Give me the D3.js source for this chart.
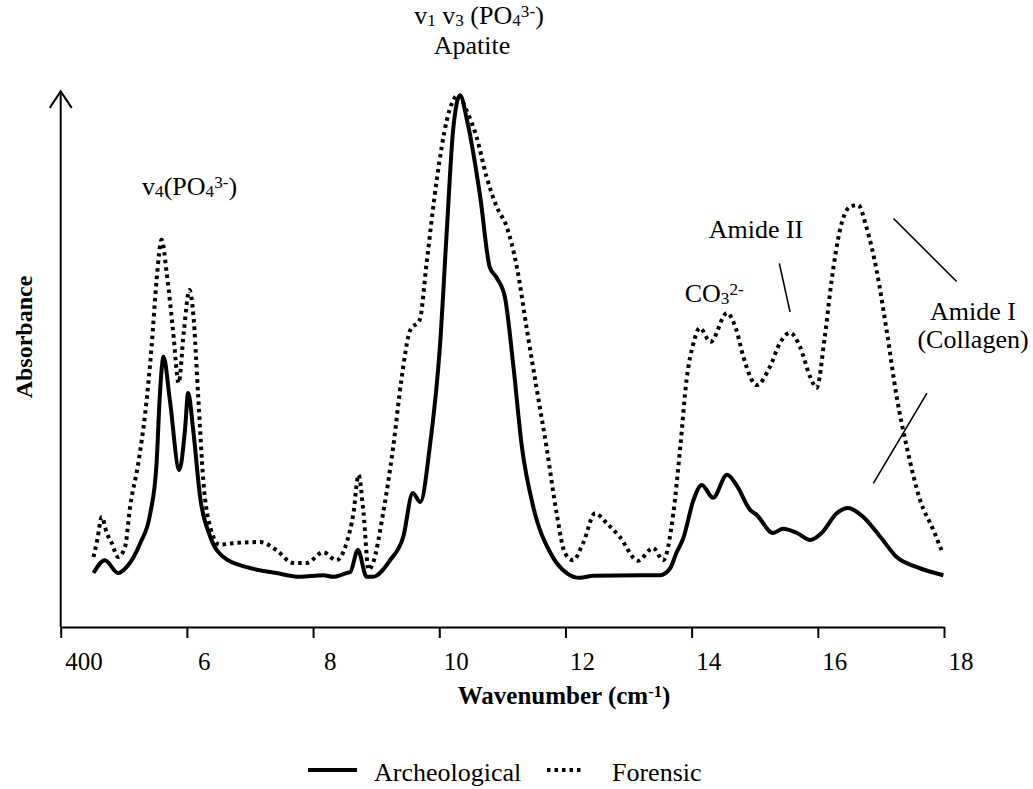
<!DOCTYPE html>
<html>
<head>
<meta charset="utf-8">
<script src="https://cdn.jsdelivr.net/npm/d3@7/dist/d3.min.js"></script>
<style>
body{margin:0;background:#fff;}
svg{display:block;background:#fff;font-family:"Liberation Serif","Times New Roman",serif;}
text{white-space:pre;fill:#000;}
</style>
</head>
<body>
<svg width="1033" height="789"></svg>
<script>
// wavenumber (cm-1) and absorbance (arbitrary units)
var archWn  = [452,470,491,505,526,542,552,557,563,573,588,597,602,610,621,637,658,695,742,779,816,832,853,859,871,885,895,922,943,958,970,985,1001,1012,1022,1033,1044,1065,1080,1091,1104,1117,1131,1149,1176,1202,1223,1244,1318,1350,1366,1376,1387,1403,1416,1434,1456,1471,1493,1503,1529,1545,1567,1588,1606,1630,1648,1672,1699,1725,1757,1799];
var archAbs = [0.101,0.125,0.101,0.113,0.157,0.213,0.307,0.431,0.506,0.425,0.294,0.369,0.438,0.369,0.243,0.169,0.131,0.112,0.101,0.094,0.097,0.094,0.101,0.103,0.144,0.094,0.094,0.125,0.169,0.251,0.234,0.337,0.524,0.743,0.931,0.996,0.949,0.805,0.674,0.654,0.618,0.494,0.337,0.225,0.139,0.101,0.092,0.096,0.097,0.097,0.110,0.139,0.167,0.238,0.266,0.242,0.285,0.266,0.219,0.210,0.176,0.184,0.176,0.163,0.176,0.213,0.223,0.206,0.169,0.131,0.112,0.097];

var forWn  = [452,458,465,473,481,491,502,510,523,534,544,552,560,568,578,587,595,604,610,618,626,637,652,673,716,742,768,790,816,837,853,864,872,880,888,895,911,927,940,954,969,980,996,1012,1030,1043,1059,1075,1091,1107,1123,1139,1154,1170,1186,1199,1212,1228,1247,1265,1286,1315,1339,1355,1371,1382,1392,1403,1413,1430,1456,1471,1482,1503,1524,1540,1556,1572,1588,1598,1611,1622,1635,1651,1664,1677,1693,1709,1725,1741,1762,1783,1796];
var forAbs = [0.131,0.163,0.206,0.176,0.157,0.131,0.150,0.225,0.307,0.401,0.524,0.650,0.725,0.663,0.556,0.457,0.551,0.631,0.588,0.431,0.275,0.187,0.154,0.157,0.159,0.144,0.120,0.120,0.140,0.125,0.157,0.213,0.285,0.213,0.107,0.120,0.213,0.337,0.463,0.556,0.575,0.682,0.837,0.949,0.996,0.968,0.918,0.843,0.787,0.749,0.674,0.556,0.449,0.337,0.213,0.139,0.125,0.157,0.213,0.195,0.169,0.124,0.148,0.125,0.213,0.337,0.463,0.532,0.560,0.534,0.588,0.556,0.506,0.453,0.487,0.532,0.551,0.524,0.468,0.448,0.543,0.650,0.743,0.787,0.790,0.749,0.669,0.556,0.431,0.337,0.238,0.182,0.144];

var seriesNames = ["Archeological","Forensic"];
var majorTicks = [400,600,800,1000,1200,1400,1600,1800];
var minorTicks = [500,700,900,1100,1300,1500,1700];
var tickLabels = ["400","6","8","10","12","14","16","18"];

var svg = d3.select("svg");

var x = d3.scaleLinear().domain([400,1800]).range([60.7,944]);
var y = d3.scaleLinear().domain([0,1]).range([627,93]);

function toPts(wn, ab){ return wn.map(function(d,i){ return [d, ab[i]]; }); }

var line = d3.line()
    .x(function(d){ return x(d[0]); })
    .y(function(d){ return y(d[1]); })
    .curve(d3.curveMonotoneX);

// rich text with sub / superscripts
function rich(sel, parts, size){
    var off = 0;
    parts.forEach(function(p){
        var t = sel.append("tspan").text(p[0]);
        var want = 0;
        if(p[1]=="sub"){ want = size*0.09; t.attr("font-size", size*0.66); }
        if(p[1]=="sup"){ want = -size*0.28; t.attr("font-size", size*0.66); }
        t.attr("dy", want-off);
        off = want;
    });
}

// axes
var axisG = svg.append("g").attr("transform","translate(0,"+y(0)+")");
axisG.call(d3.axisBottom(x).tickValues(minorTicks).tickSize(6).tickSizeOuter(0).tickFormat(""));
axisG.call(d3.axisBottom(x).tickValues(majorTicks).tickSize(11).tickSizeOuter(0)
    .tickFormat(function(d,i){ return tickLabels[i]; }));
axisG.attr("font-family",null).attr("font-size",null);
axisG.selectAll("path,line").attr("stroke","#000").attr("stroke-width",2);
axisG.selectAll("text")
    .attr("fill","#000")
    .attr("font-size",25)
    .attr("text-anchor","start")
    .attr("y",43).attr("dy",null)
    .attr("x",function(d,i){ return tickLabels[i].length==1 ? 10.5 : 4; });

// y axis with arrow
var yTop = y(1.003);
svg.append("line").attr("x1",x(400)).attr("x2",x(400)).attr("y1",y(0)).attr("y2",yTop)
    .attr("stroke","#000").attr("stroke-width",2);
svg.append("path")
    .attr("d","M"+(x(400)-11)+","+(yTop+16.5)+"L"+x(400)+","+yTop+"L"+(x(400)+11)+","+(yTop+16.5))
    .attr("fill","none").attr("stroke","#000").attr("stroke-width",2);

// curves
svg.append("path").datum(toPts(archWn, archAbs))
    .attr("d",line).attr("fill","none").attr("stroke","#000")
    .attr("stroke-width",4).attr("stroke-linejoin","round");
svg.append("path").datum(toPts(forWn, forAbs))
    .attr("d",line).attr("fill","none").attr("stroke","#000")
    .attr("stroke-width",4).attr("stroke-dasharray","3.5,4");

// axis titles
rich(svg.append("text").attr("x",564).attr("y",704).attr("text-anchor","middle")
    .attr("font-size",25).attr("font-weight","bold"),
    [["Wavenumber (cm","n"],["-1","sup"],[")","n"]], 25);
svg.append("text").attr("transform","translate(32,337) rotate(-90)")
    .attr("text-anchor","middle").attr("font-size",24).attr("font-weight","bold")
    .text("Absorbance");

// peak annotations (placed in data units)
var fs = 26;
rich(svg.append("text").attr("x",x(1063)).attr("y",y(1.129)).attr("text-anchor","middle").attr("font-size",fs),
    [["v","n"],["1","sub"],[" v","n"],["3","sub"],[" (PO","n"],["4","sub"],["3-","sup"],[")","n"]], fs);
svg.append("text").attr("x",x(1052)).attr("y",y(1.073)).attr("text-anchor","middle").attr("font-size",fs).text("Apatite");
rich(svg.append("text").attr("x",x(529)).attr("y",y(0.809)).attr("font-size",fs),
    [["v","n"],["4","sub"],["(PO","n"],["4","sub"],["3-","sup"],[")","n"]], fs);
rich(svg.append("text").attr("x",x(1389)).attr("y",y(0.609)).attr("font-size",fs),
    [["CO","n"],["3","sub"],["2-","sup"]], fs);
svg.append("text").attr("x",x(1502)).attr("y",y(0.728)).attr("text-anchor","middle").attr("font-size",fs).text("Amide II");
svg.append("text").attr("x",x(1846)).attr("y",y(0.574)).attr("text-anchor","middle").attr("font-size",fs).text("Amide I");
svg.append("text").attr("x",x(1846)).attr("y",y(0.522)).attr("text-anchor","middle").attr("font-size",fs).text("(Collagen)");

var pointers = [[1539,0.681,1556,0.590],[1720,0.765,1820,0.647],[1773,0.438,1688,0.269]];
svg.selectAll(".ptr").data(pointers).enter().append("line").attr("class","ptr")
    .attr("x1",function(d){ return x(d[0]); }).attr("y1",function(d){ return y(d[1]); })
    .attr("x2",function(d){ return x(d[2]); }).attr("y2",function(d){ return y(d[3]); })
    .attr("stroke","#000").attr("stroke-width",1.6);

// legend
var legend = svg.append("g");
legend.append("line").attr("x1",308).attr("x2",357).attr("y1",770).attr("y2",770)
    .attr("stroke","#000").attr("stroke-width",4);
legend.append("text").attr("x",374).attr("y",781).attr("font-size",fs).text(seriesNames[0]);
legend.append("line").attr("x1",547).attr("x2",584).attr("y1",770).attr("y2",770)
    .attr("stroke","#000").attr("stroke-width",4).attr("stroke-dasharray","3.5,4");
legend.append("text").attr("x",612).attr("y",781).attr("font-size",fs).text(seriesNames[1]);
</script>
</body>
</html>
